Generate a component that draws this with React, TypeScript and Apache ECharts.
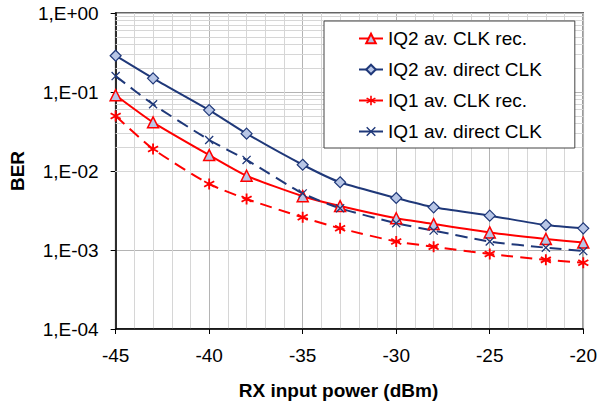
import React, { useEffect, useRef } from "react";
import * as echarts from "echarts";

const X_VALUES = [-45, -43, -40, -38, -35, -33, -30, -28, -25, -22, -20];
const IQ2_CLK_REC = [0.091, 0.0413, 0.0159, 0.0087, 0.0048, 0.0036, 0.00252, 0.00213, 0.00167, 0.00138, 0.00124];
const IQ2_DIRECT = [0.288, 0.149, 0.059, 0.0297, 0.012, 0.0072, 0.00455, 0.00347, 0.00272, 0.00207, 0.00188];
const IQ1_CLK_REC = [0.0497, 0.019, 0.00685, 0.00442, 0.00259, 0.00188, 0.00128, 0.0011, 0.00089, 0.00075, 0.00069];
const IQ1_DIRECT = [0.159, 0.0699, 0.0247, 0.0138, 0.0052, 0.00337, 0.00218, 0.00176, 0.00128, 0.00107, 0.00097];
const SERIES_NAMES = ["IQ2 av. CLK rec.", "IQ2 av. direct CLK", "IQ1 av. CLK rec.", "IQ1 av. direct CLK"];
const DECADES = [1e-4, 1e-3, 1e-2, 1e-1];
const MINOR_MULTIPLIERS = [2, 3, 4, 5, 6, 7, 8, 9];

const RED = "#FF0000";
const NAVY = "#1F3879";
const MARKER_FILL = "#B8C6E6";
const FONT = "Liberation Sans, Arial, sans-serif";

const ASTERISK =
  "path://M4.2,0L5.8,0L5.8,10L4.2,10Z" +
  "M9.73,6.81L8.93,8.19L0.27,3.19L1.07,1.81Z" +
  "M8.93,1.81L9.73,3.19L1.07,8.19L0.27,6.81Z";
const CROSS =
  "path://M10.566,9.434L9.434,10.566L-0.566,0.566L0.566,-0.566Z" +
  "M0.566,10.566L-0.566,9.434L9.434,-0.566L10.566,0.566Z";

function pairs(vals: number[]) {
  return X_VALUES.map((x, i) => [x, vals[i]]);
}

function fmtY(v: number) {
  const e = Math.round(Math.log10(v));
  const sign = e < 0 ? "-" : "+";
  const a = Math.abs(e);
  return "1,E" + sign + (a < 10 ? "0" + a : String(a));
}

export default function App() {
  const ref = useRef<HTMLDivElement>(null);
  useEffect(() => {
    if (!ref.current) return;
    const chart = echarts.init(ref.current, undefined, { renderer: "svg" });
    const minorVals: number[] = [];
    DECADES.forEach((d) => MINOR_MULTIPLIERS.forEach((m) => minorVals.push(d * m)));
    chart.setOption({
      animation: false,
      backgroundColor: "#ffffff",
      textStyle: { fontFamily: FONT },
      grid: {
        left: 105,
        right: 15,
        top: 13,
        bottom: 82,
        show: true,
        borderColor: "#333333",
        borderWidth: 1.5,
        backgroundColor: "transparent",
      },
      legend: {
        data: SERIES_NAMES,
        orient: "vertical",
        left: 324,
        top: 21,
        padding: [8, 33, 7, 34],
        itemGap: 12,
        itemWidth: 24,
        itemHeight: 12,
        backgroundColor: "#ffffff",
        borderColor: "#444444",
        borderWidth: 1,
        borderRadius: 0,
        z: 20,
        lineStyle: { type: "solid", width: 2 },
        textStyle: { fontSize: 19, color: "#000", fontFamily: FONT, lineHeight: 19 },
      },
      xAxis: {
        type: "value",
        min: -45,
        max: -20,
        interval: 5,
        name: "RX input power (dBm)",
        nameLocation: "middle",
        nameGap: 52,
        nameTextStyle: { fontSize: 19, fontWeight: "bold", color: "#000", fontFamily: FONT, padding: [0, 22, 0, 0] },
        axisLine: { show: true, onZero: false, lineStyle: { color: "#000", width: 1.5 } },
        axisTick: { show: true, inside: false, length: 5, lineStyle: { color: "#000" } },
        axisLabel: { fontSize: 19, color: "#000", margin: 17, fontFamily: FONT },
        splitLine: { show: true, lineStyle: { color: "#b4b4b4", width: 1 } },
        minorTick: { show: false, splitNumber: 5 },
        minorSplitLine: { show: true, lineStyle: { color: "#d6d6d6", width: 1 } },
      },
      yAxis: {
        type: "log",
        logBase: 10,
        min: 0.0001,
        max: 1,
        name: "BER",
        nameLocation: "middle",
        nameGap: 82,
        nameTextStyle: { fontSize: 19, fontWeight: "bold", color: "#000", fontFamily: FONT },
        axisLine: { show: true, lineStyle: { color: "#000", width: 1.5 } },
        axisTick: { show: true, inside: false, length: 5, lineStyle: { color: "#000" } },
        axisLabel: { fontSize: 19, color: "#000", margin: 17, formatter: fmtY, fontFamily: FONT },
        splitLine: { show: true, lineStyle: { color: "#b4b4b4", width: 1 } },
      },
      series: [
        {
          name: "minor-grid",
          type: "line",
          data: [],
          silent: true,
          z: 1,
          markLine: {
            silent: true,
            symbol: "none",
            label: { show: false },
            lineStyle: { color: "#d6d6d6", width: 1, type: "solid" },
            data: minorVals.map((v) => ({ yAxis: v })),
          },
        },
        {
          name: SERIES_NAMES[0],
          type: "line",
          z: 5,
          smooth: 0.2,
          data: pairs(IQ2_CLK_REC),
          symbol: "triangle",
          symbolSize: 11,
          lineStyle: { color: RED, width: 2, type: "solid" },
          itemStyle: { color: MARKER_FILL, borderColor: RED, borderWidth: 1.5 },
        },
        {
          name: SERIES_NAMES[1],
          type: "line",
          z: 5,
          smooth: 0.2,
          data: pairs(IQ2_DIRECT),
          symbol: "diamond",
          symbolSize: 11,
          lineStyle: { color: NAVY, width: 2, type: "solid" },
          itemStyle: { color: MARKER_FILL, borderColor: NAVY, borderWidth: 1.2 },
        },
        {
          name: SERIES_NAMES[2],
          type: "line",
          z: 5,
          smooth: 0.2,
          data: pairs(IQ1_CLK_REC),
          symbol: ASTERISK,
          symbolSize: 11,
          lineStyle: { color: RED, width: 2, type: [12, 7] },
          itemStyle: { color: RED, borderWidth: 0 },
        },
        {
          name: SERIES_NAMES[3],
          type: "line",
          z: 5,
          smooth: 0.2,
          data: pairs(IQ1_DIRECT),
          symbol: CROSS,
          symbolSize: 9,
          lineStyle: { color: NAVY, width: 2, type: [12, 7] },
          itemStyle: { color: NAVY, borderWidth: 0 },
        },
      ],
    });
    return () => chart.dispose();
  }, []);
  return <div ref={ref} style={{ width: 600, height: 411, position: "absolute", left: 0, top: 0 }} />;
}
